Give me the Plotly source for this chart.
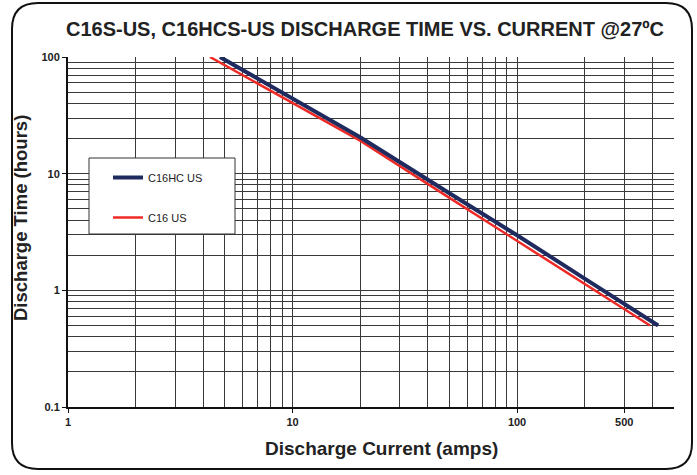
import plotly.graph_objects as go

# ---- data ----
hc_current = [4.75, 10, 20, 50, 100, 200, 425]
hc_hours = [100, 44, 20.5, 6.8, 2.97, 1.26, 0.5]

c16_current = [4.29, 10, 20, 50, 100, 200, 391]
c16_hours = [100, 40.5, 19.2, 6.2, 2.66, 1.14, 0.5]

x_tickvals = [1, 10, 100, 300]
x_ticktext = ["1", "10", "100", "500"]
y_tickvals = [0.1, 1, 10, 100]
y_ticktext = ["0.1", "1", "10", "100"]

x_minor = [m * d for d in (1, 10, 100) for m in range(2, 10) if m * d <= 500 and m * d != 300]
y_minor = [m * d for d in (0.1, 1, 10) for m in range(2, 10)]

W, H = 697, 475
L, R, T, B = 68, 674, 57, 407
NAVY = "#1f2a5e"
RED = "#ee2a26"
GRID = "#3a3a3a"


def px(xp):
    return (xp - L) / (R - L)


def py(yp):
    return (B - yp) / (B - T)


def rounded_rect(x0, y0, x1, y1, r):
    pts = [
        ("M", px(x0 + r), py(y0)),
        ("L", px(x1 - r), py(y0)),
        ("Q", px(x1), py(y0), px(x1), py(y0 + r)),
        ("L", px(x1), py(y1 - r)),
        ("Q", px(x1), py(y1), px(x1 - r), py(y1)),
        ("L", px(x0 + r), py(y1)),
        ("Q", px(x0), py(y1), px(x0), py(y1 - r)),
        ("L", px(x0), py(y0 + r)),
        ("Q", px(x0), py(y0), px(x0 + r), py(y0)),
    ]
    s = ""
    for p in pts:
        cmd = p[0]
        coords = p[1:]
        s += cmd + " " + " ".join(
            f"{coords[i]:.5f},{coords[i+1]:.5f}" for i in range(0, len(coords), 2)
        ) + " "
    return s + "Z"


fig = go.Figure()
fig.add_trace(go.Scatter(x=c16_current, y=c16_hours, mode="lines", name="C16 US",
                         line=dict(color=RED, width=2.5), legendgroup="b", legendrank=2))
fig.add_trace(go.Scatter(x=hc_current, y=hc_hours, mode="lines", name="C16HC US",
                         line=dict(color=NAVY, width=4), legendgroup="a", legendrank=1))

tickfont = dict(family="Liberation Sans, Arial, sans-serif", size=11, color="#222", weight="bold")

fig.update_xaxes(type="log", range=[0, 2.69897], tickvals=x_tickvals, ticktext=x_ticktext,
                 showgrid=True, gridcolor=GRID, gridwidth=1,
                 minor=dict(tickvals=x_minor, showgrid=True, gridcolor=GRID, gridwidth=1, ticks=""),
                 ticks="outside", ticklen=4, tickcolor="#111", tickfont=tickfont,
                 showline=True, linecolor="#111", linewidth=2, zeroline=False)
fig.update_yaxes(type="log", range=[-1, 2], tickvals=y_tickvals, ticktext=y_ticktext,
                 showgrid=True, gridcolor=GRID, gridwidth=1,
                 minor=dict(tickvals=y_minor, showgrid=True, gridcolor=GRID, gridwidth=1, ticks=""),
                 ticks="outside", ticklen=4, tickcolor="#111", tickfont=tickfont,
                 showline=True, linecolor="#111", linewidth=2, zeroline=False)

shapes = [
    dict(type="path", xref="paper", yref="paper", path=rounded_rect(12, 3, 692, 469, 26),
         line=dict(color="#111", width=2), fillcolor="rgba(0,0,0,0)", layer="above"),
    dict(type="rect", xref="paper", yref="paper", x0=px(89), x1=px(235), y0=py(234), y1=py(158),
         line=dict(color="#333", width=1), fillcolor="white", layer="above"),
]

annotations = [
    dict(text="Discharge Time (hours)", xref="paper", yref="paper", x=px(20), y=py(218),
         showarrow=False, textangle=-90, xanchor="center", yanchor="middle",
         font=dict(family="Liberation Sans, Arial, sans-serif", size=18.5, color="#222", weight="bold")),
    dict(text="Discharge Current (amps)", xref="paper", yref="paper", x=px(381), y=py(448),
         showarrow=False, xanchor="center", yanchor="middle",
         font=dict(family="Liberation Sans, Arial, sans-serif", size=19, color="#222", weight="bold")),
]

fig.update_layout(
    width=W, height=H,
    margin=dict(l=L, r=W - R, t=T, b=H - B),
    paper_bgcolor="white", plot_bgcolor="white",
    title=dict(text="C16S-US, C16HCS-US DISCHARGE TIME VS. CURRENT @27ºC",
               x=365 / W, xanchor="center", y=1 - 29 / H, yanchor="middle",
               font=dict(family="Liberation Sans, Arial, sans-serif",
                         size=20, color="#222", weight="bold")),
    shapes=shapes,
    annotations=annotations,
    showlegend=True,
    legend=dict(x=px(108), y=py(163), xanchor="left", yanchor="top",
                bgcolor="rgba(0,0,0,0)", borderwidth=0, tracegroupgap=21,
                traceorder="grouped",
                font=dict(family="Liberation Sans, Arial, sans-serif", size=11, color="#222")),
)

fig.write_html("out.html", config={"displayModeBar": False},
               post_script="document.body.style.margin='0';document.body.style.padding='0';document.body.style.overflow='hidden';")
